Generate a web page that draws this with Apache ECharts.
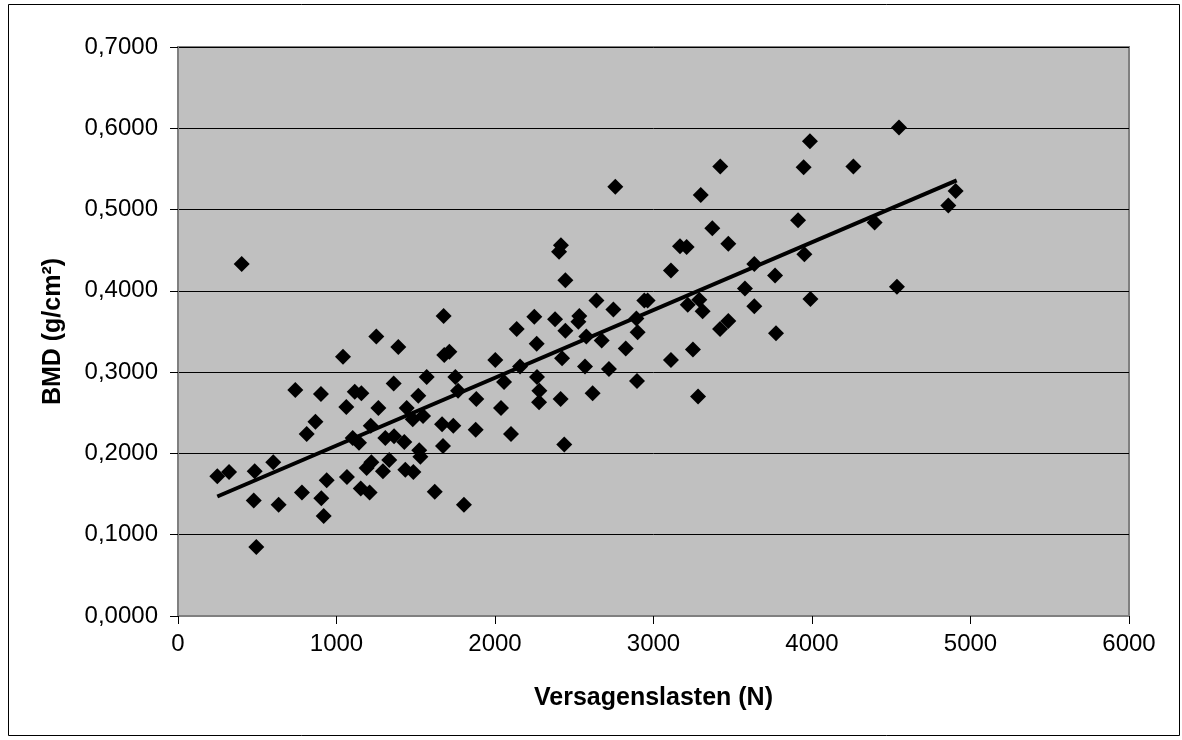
<!DOCTYPE html>
<html>
<head>
<meta charset="utf-8">
<script src="https://cdn.jsdelivr.net/npm/echarts@6/dist/echarts.min.js"></script>
<style>
  html, body { margin: 0; padding: 0; background: #fff; }
  #chart { width: 1182px; height: 740px; }
</style>
</head>
<body>
<div id="chart"></div>
<script>
// Versagenslasten (N) / BMD (g/cm²)
var lastN = [
  248, 322, 484, 601, 478, 494, 635, 740, 782, 812, 867, 902, 904, 919, 938,
  1041, 1062, 1066, 1115, 1157, 1102, 1142, 1153, 1209, 1190, 1220, 1216, 1251,
  1264, 1293, 1308, 1333, 1363, 1361, 1390, 1428, 1434, 1443, 1481, 1485, 1516,
  1522, 1529, 1546, 1569, 1620, 1672, 1666, 1676, 1680, 1712, 1737, 1750, 1767,
  1804, 1878, 1882, 2002, 2038, 2057,
  2137, 2248, 2263, 2379, 2444, 2423, 2532, 2526, 2576, 2640, 2673, 2747, 2568,
  2719, 2825, 2892, 2900, 2942, 2963, 2896, 2616, 2414, 2437, 2158, 2265, 2280,
  2278, 2101, 2416, 2404, 2444, 3110, 3167, 3209, 3472, 3216, 3289, 3310, 3110,
  3249, 3281, 3420, 3472, 3577, 3636, 3636, 3767, 3773, 3952, 3990,
  2759, 3421, 3298, 3371,
  3987, 3947, 4261, 4549, 4906, 4860, 3912, 4395, 4536,
  402
];
var bmd = [
  0.172, 0.177, 0.178, 0.189, 0.142, 0.085, 0.137, 0.278, 0.152, 0.224, 0.239, 0.273, 0.145, 0.123, 0.167,
  0.319, 0.257, 0.171, 0.276, 0.274, 0.219, 0.213, 0.157, 0.152, 0.182, 0.189, 0.234, 0.344,
  0.256, 0.178, 0.219, 0.192, 0.221, 0.286, 0.331, 0.214, 0.180, 0.256, 0.242, 0.177, 0.271,
  0.204, 0.196, 0.246, 0.294, 0.153, 0.209, 0.236, 0.369, 0.321, 0.325, 0.234, 0.294, 0.277,
  0.137, 0.229, 0.267, 0.315, 0.256, 0.288,
  0.353, 0.368, 0.335, 0.365, 0.351, 0.317, 0.369, 0.362, 0.344, 0.388, 0.339, 0.377, 0.307,
  0.304, 0.329, 0.366, 0.349, 0.388, 0.388, 0.289, 0.274, 0.267, 0.211, 0.307, 0.294, 0.277,
  0.263, 0.224, 0.456, 0.448, 0.413, 0.425, 0.455, 0.454, 0.458, 0.383, 0.389, 0.375, 0.315,
  0.328, 0.270, 0.353, 0.363, 0.403, 0.433, 0.381, 0.419, 0.348, 0.445, 0.390,
  0.528, 0.553, 0.518, 0.477,
  0.584, 0.552, 0.553, 0.601, 0.523, 0.505, 0.487, 0.484, 0.405,
  0.433
];
// trend line ends as drawn in the picture
var trendX = [248, 4913];
var trendY = [0.147, 0.536];

var points = lastN.map(function (x, i) { return [x, bmd[i]]; });
var trend = trendX.map(function (x, i) { return [x, trendY[i]]; });

var font = "'Liberation Sans', Arial, sans-serif";
var chart = echarts.init(document.getElementById('chart'));

chart.setOption({
  animation: false,
  backgroundColor: '#fff',
  graphic: [{
    type: 'rect',
    shape: { x: 8.5, y: 4.5, width: 1171, height: 731 },
    style: { fill: null, stroke: '#000', lineWidth: 1 },
    silent: true
  }],
  grid: {
    left: 178, right: 53, top: 47, bottom: 124,
    show: true,
    backgroundColor: '#c0c0c0',
    borderColor: '#808080',
    borderWidth: 2
  },
  xAxis: {
    type: 'value',
    min: 0, max: 6000, interval: 1000,
    name: 'Versagenslasten (N)',
    nameLocation: 'middle',
    nameGap: 70,
    nameTextStyle: { fontFamily: font, fontSize: 25, fontWeight: 'bold', color: '#000' },
    axisLine: { show: true, lineStyle: { color: '#808080', width: 2 } },
    axisTick: { show: true, inside: false, length: 8, lineStyle: { color: '#000' } },
    axisLabel: {
      fontFamily: font, fontSize: 24, color: '#000', margin: 16,
      formatter: function (v) { return String(v); }
    },
    splitLine: { show: false }
  },
  yAxis: {
    type: 'value',
    min: 0, max: 0.7, interval: 0.1,
    name: 'BMD (g/cm²)',
    nameLocation: 'middle',
    nameRotate: 90,
    nameGap: 112,
    nameTextStyle: { fontFamily: font, fontSize: 25, fontWeight: 'bold', color: '#000' },
    axisLine: { show: true, lineStyle: { color: '#808080', width: 2 } },
    axisTick: { show: true, inside: false, length: 8, lineStyle: { color: '#000' } },
    axisLabel: {
      fontFamily: font, fontSize: 24, color: '#000', margin: 20,
      formatter: function (v) { return v.toFixed(4).replace('.', ','); }
    },
    splitLine: { show: true, lineStyle: { color: '#000', width: 1 } }
  },
  series: [{
    type: 'scatter',
    data: points,
    symbol: 'diamond',
    symbolSize: 16,
    itemStyle: { color: '#000', opacity: 1 },
    z: 3
  }, {
    type: 'line',
    data: trend,
    symbol: 'none',
    lineStyle: { color: '#000', width: 4 },
    z: 4
  }]
});
</script>
</body>
</html>
